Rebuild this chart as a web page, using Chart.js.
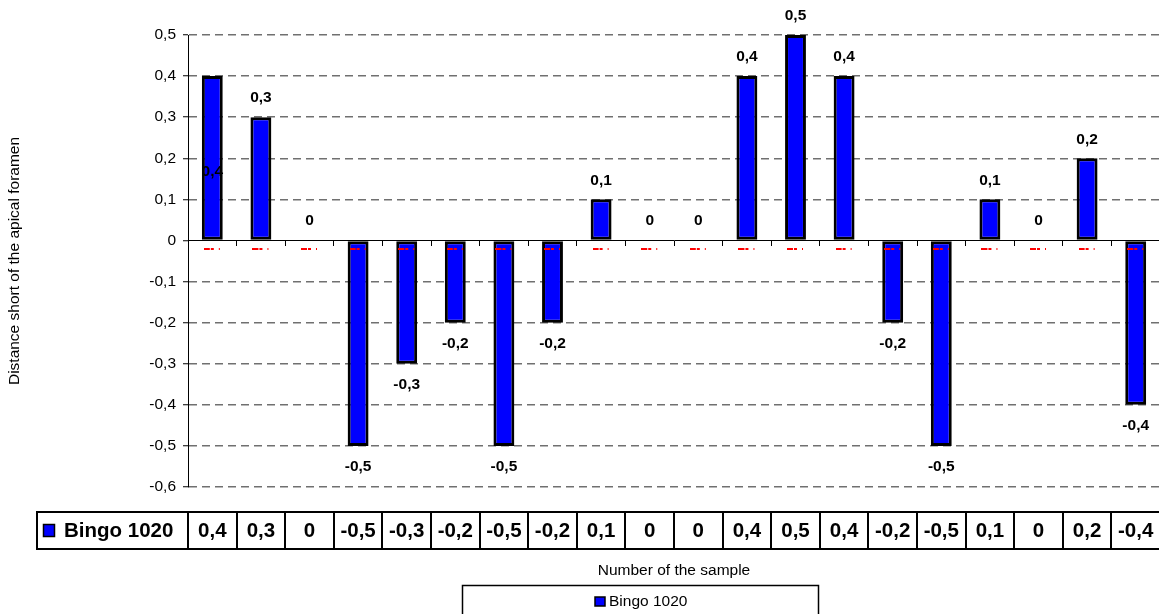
<!DOCTYPE html>
<html>
<head>
<meta charset="utf-8">
<script src="https://cdn.jsdelivr.net/npm/chart.js@4.4.0/dist/chart.umd.min.js"></script>
<style>
  body { margin: 0; overflow: hidden; background: #fff; }
  #wrap { position: relative; width: 1170px; height: 614px; }
</style>
</head>
<body>
<div id="wrap"><canvas id="barChart" width="1170" height="614"></canvas></div>
<script>
const sampleNumbers = ['1', '2', '3', '4', '5', '6', '7', '8', '9', '10',
    '11', '12', '13', '14', '15', '16', '17', '18', '19', '20'];
const seriesName = 'Bingo 1020';
const bingoValues = [0.4, 0.3, 0, -0.5, -0.3, -0.2, -0.5, -0.2, 0.1, 0,
    0, 0.4, 0.5, 0.4, -0.2, -0.5, 0.1, 0, 0.2, -0.4];
// the little red dashes sitting just under the zero line
const markerValues = [-0.02, -0.02, -0.02, -0.02, -0.02, -0.02, -0.02, -0.02, -0.02, -0.02,
    -0.02, -0.02, -0.02, -0.02, -0.02, -0.02, -0.02, -0.02, -0.02, -0.02];
const yTitle = 'Distance short of the apical foramen';
const xTitle = 'Number of the sample';

const FONT = '"Liberation Sans", Arial, sans-serif';

const fmt = v => (Math.round(v * 10) / 10).toString().replace('.', ',');

// red dash marker image
const dashMark = document.createElement('canvas');
dashMark.width = 17;
dashMark.height = 2;
(() => {
    const c = dashMark.getContext('2d');
    c.fillStyle = '#ff0000';
    c.fillRect(0, 0, 6, 2);
    c.fillRect(7, 0, 3, 2);
    c.fillRect(15, 0, 1, 2);
})();

const barLabels = {
    id: 'barLabels',
    afterDatasetsDraw(chart) {
        const ctx = chart.ctx;
        const meta = chart.getDatasetMeta(0);
        ctx.save();
        ctx.font = 'bold 15.5px ' + FONT;
        ctx.fillStyle = '#000';
        ctx.textAlign = 'center';
        ctx.textBaseline = 'middle';
        meta.data.forEach((bar, i) => {
            const v = bingoValues[i];
            let y;
            if (i === 0) {
                // in the original the first label ended up inside the bar
                y = (bar.y + bar.base) / 2 + 14;
            } else if (v > 0) {
                y = bar.y - 19;
            } else if (v < 0) {
                y = bar.y + 21;
            } else {
                y = bar.y - 20;
            }
            ctx.fillText(fmt(v), bar.x, y);
        });
        ctx.restore();
    }
};

const dataTable = {
    id: 'dataTable',
    afterDraw(chart) {
        const {ctx, chartArea} = chart;
        const xs = chart.scales.x;
        const n = sampleNumbers.length;
        const colW = xs.width / n;
        const top = 512, bottom = 549, left = 37;
        const mid = (top + bottom) / 2;

        ctx.save();
        ctx.strokeStyle = '#000';
        ctx.lineWidth = 2;
        ctx.strokeRect(left, top, chartArea.right - left, bottom - top);
        for (let i = 0; i < n; i++) {
            const bx = Math.round(xs.getPixelForValue(i) - colW / 2);
            ctx.beginPath();
            ctx.moveTo(bx, top);
            ctx.lineTo(bx, bottom);
            ctx.stroke();
        }

        // header cell
        ctx.fillStyle = '#0000ff';
        ctx.fillRect(left + 6.5, mid - 6, 11, 12);
        ctx.lineWidth = 1.5;
        ctx.strokeRect(left + 6.5, mid - 6, 11, 12);
        ctx.fillStyle = '#000';
        ctx.font = 'bold 20.5px ' + FONT;
        ctx.textBaseline = 'middle';
        ctx.textAlign = 'left';
        ctx.fillText(seriesName, left + 27, mid + 1);

        ctx.textAlign = 'center';
        bingoValues.forEach((v, i) => {
            ctx.fillText(fmt(v), xs.getPixelForValue(i), mid + 1);
        });

        // axis title under the table
        ctx.font = '15.5px ' + FONT;
        ctx.fillText(xTitle, (chartArea.left + chartArea.right) / 2, 571);

        // legend box
        ctx.lineWidth = 1.5;
        ctx.strokeRect(462.5, 585.5, 356, 50);
        ctx.fillStyle = '#0000ff';
        ctx.fillRect(595, 597, 10, 9);
        ctx.lineWidth = 1.5;
        ctx.strokeRect(595, 597, 10, 9);
        ctx.fillStyle = '#000';
        ctx.textAlign = 'left';
        ctx.fillText(seriesName, 609, 602);
        ctx.restore();
    }
};

new Chart('barChart', {
    type: 'bar',
    data: {
        labels: sampleNumbers,
        datasets: [{
            label: seriesName,
            data: bingoValues,
            backgroundColor: '#0000ff',
            borderColor: '#000000',
            borderWidth: 3,
            borderSkipped: false,
            barPercentage: 0.43,
            categoryPercentage: 1,
            order: 1
        }, {
            type: 'line',
            label: 'marks',
            data: markerValues,
            showLine: false,
            pointStyle: dashMark,
            pointRadius: 8,
            order: 0
        }]
    },
    options: {
        responsive: false,
        animation: false,
        layout: {
            padding: {top: 35, right: 10, bottom: 127, left: 0}
        },
        scales: {
            x: {
                position: {y: 0},
                ticks: {display: false},
                grid: {
                    display: true,
                    offset: true,
                    drawOnChartArea: false,
                    drawTicks: true,
                    tickLength: 5,
                    tickColor: '#000',
                    tickBorderDash: []
                },
                border: {display: true, color: '#000', width: 1}
            },
            y: {
                min: -0.6,
                max: 0.5,
                afterFit(scale) {
                    scale.width = 188;
                },
                ticks: {
                    stepSize: 0.1,
                    padding: 7,
                    color: '#000',
                    font: {family: FONT, size: 15.5},
                    callback: v => fmt(v)
                },
                grid: {
                    color: ctx => ctx.tick && ctx.tick.value === 0 ? 'rgba(0,0,0,0)' : '#707070',
                    lineWidth: 1.5,
                    tickLength: 5,
                    tickColor: '#000',
                    tickWidth: 1,
                    tickBorderDash: []
                },
                border: {display: true, color: '#000', width: 1, dash: [8, 5]},
                title: {
                    display: true,
                    text: yTitle,
                    color: '#000',
                    font: {family: FONT, size: 15.5},
                    padding: {top: 5, bottom: 0}
                }
            }
        },
        plugins: {
            legend: {display: false},
            tooltip: {enabled: false}
        }
    },
    plugins: [barLabels, dataTable]
});
</script>
</body>
</html>
